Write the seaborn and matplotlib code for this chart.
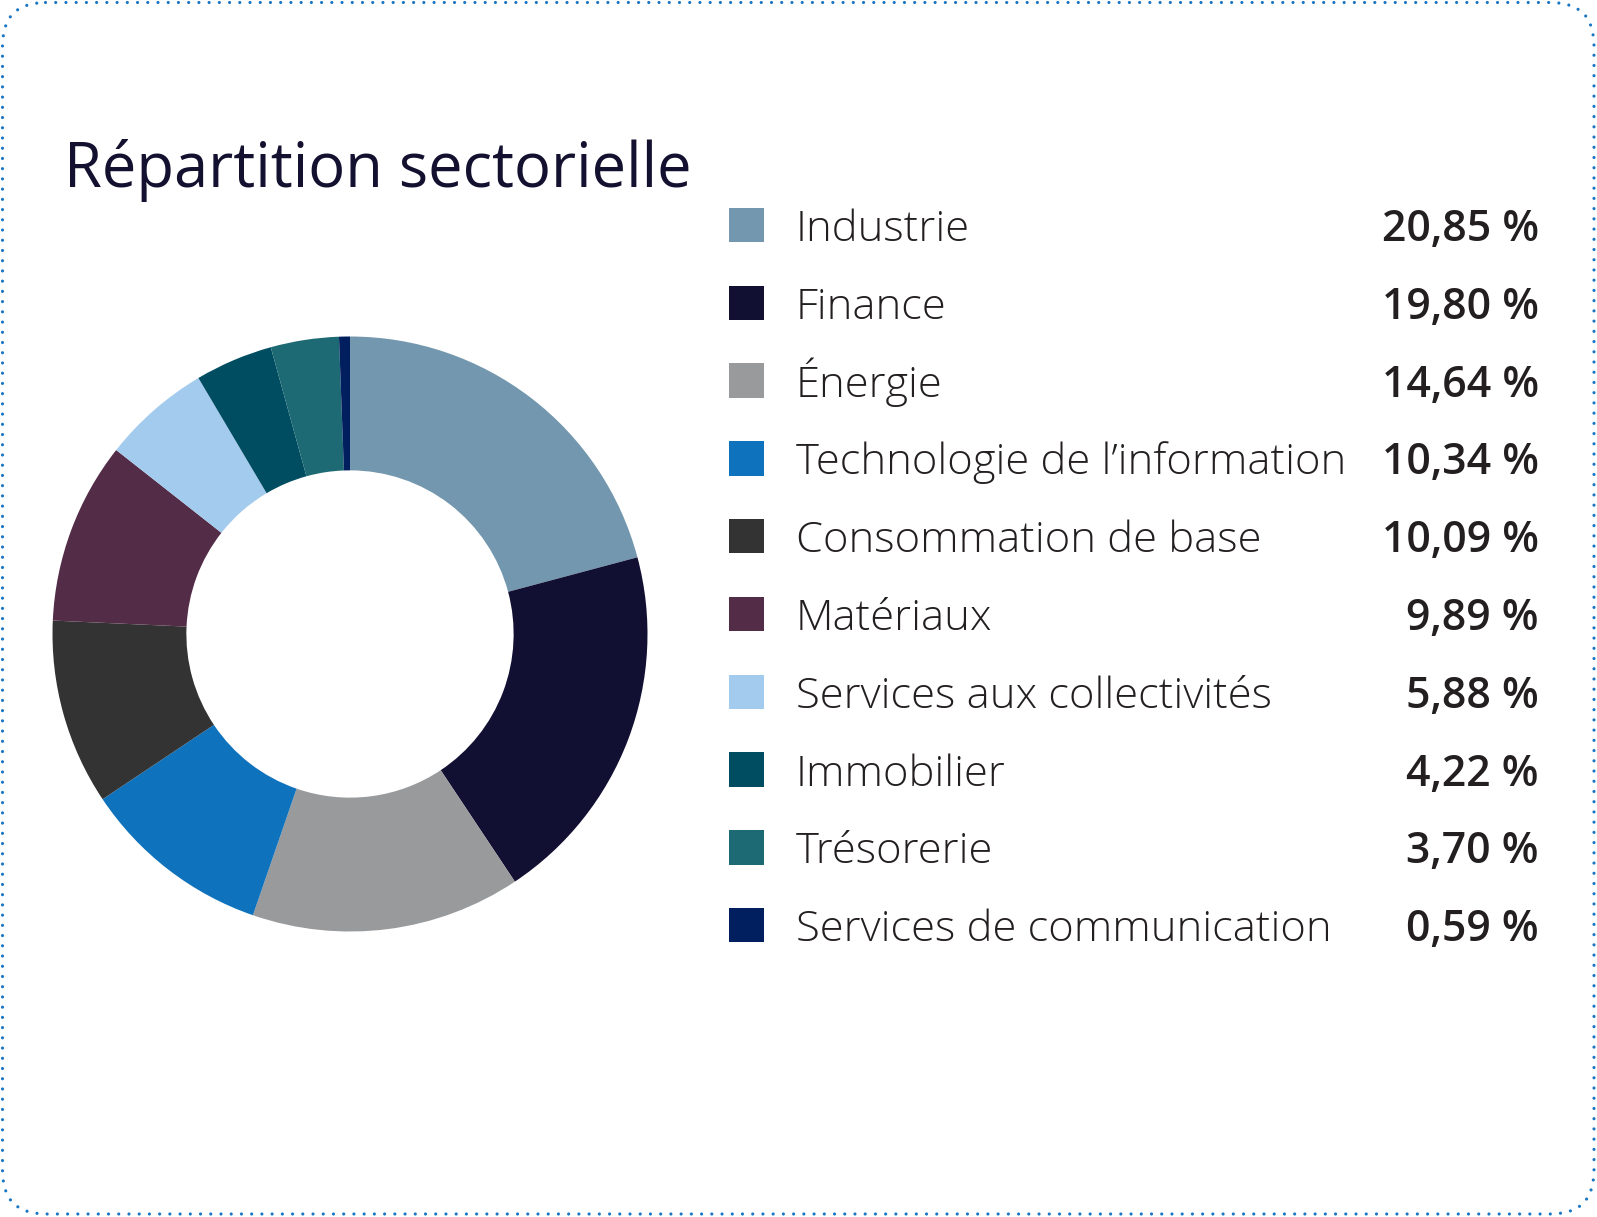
import matplotlib
matplotlib.use("Agg")
import matplotlib.pyplot as plt
from matplotlib.patches import FancyBboxPatch, Rectangle
import seaborn as sns

# ---- data ----
sectors = [
    "Industrie",
    "Finance",
    "Énergie",
    "Technologie de l’information",
    "Consommation de base",
    "Matériaux",
    "Services aux collectivités",
    "Immobilier",
    "Trésorerie",
    "Services de communication",
]
weights = [20.85, 19.80, 14.64, 10.34, 10.09, 9.89, 5.88, 4.22, 3.70, 0.59]
value_labels = ["20,85 %", "19,80 %", "14,64 %", "10,34 %", "10,09 %",
                "9,89 %", "5,88 %", "4,22 %", "3,70 %", "0,59 %"]
sector_colors = ["#7397AE", "#121032", "#999A9C", "#0E72BC", "#333333",
                 "#532C48", "#A3CBEE", "#004D61", "#1E6A74", "#011E5E"]
title = "Répartition sectorielle"

# ---- style ----
sns.set_theme(style="white")
plt.rcParams["font.family"] = ["Open Sans", "DejaVu Sans"]
palette = sns.color_palette(sector_colors)

W, H = 1597, 1217
fig = plt.figure(figsize=(W / 100, H / 100), dpi=100)
fig.patch.set_facecolor("white")

# overlay axes in pixel units
ov = fig.add_axes([0, 0, 1, 1])
ov.set_xlim(0, W)
ov.set_ylim(H, 0)
ov.axis("off")
ov.patch.set_alpha(0)

# dotted rounded border
border = FancyBboxPatch((2.5, 2.5), W - 5.5, H - 5.5,
                        boxstyle="round,pad=0,rounding_size=43",
                        facecolor="none", edgecolor="#1A76C2",
                        linewidth=2.3, linestyle=(0, (0.001, 3.2)),
                        capstyle="round")
ov.add_patch(border)

# title
ov.text(64, 187, title, fontsize=44.3, color="#13112F", ha="left", va="baseline")

# donut
cx, cy, R = 350, 634, 297.5
pax = fig.add_axes([(cx - R) / W, (H - cy - R) / H, 2 * R / W, 2 * R / H])
pax.pie(weights, colors=palette, startangle=90, counterclock=False, radius=1,
        wedgeprops=dict(width=0.45, linewidth=0))
pax.set_xlim(-1, 1)
pax.set_ylim(-1, 1)
pax.axis("off")

# legend
row0, step = 225, 77.8
for i, (lab, val, col) in enumerate(zip(sectors, value_labels, palette)):
    yc = row0 + i * step
    ov.add_patch(Rectangle((729, yc - 17.3), 34.5, 34.5, facecolor=col,
                           edgecolor="none"))
    ov.text(796, yc + 16, lab, fontsize=31.3, fontweight="light",
            color="#231F20", ha="left", va="baseline")
    ov.text(1539, yc + 16, val, fontsize=30.8, fontweight=600,
            color="#231F20", ha="right", va="baseline")

fig.savefig("out.png", dpi=100, facecolor="white")
